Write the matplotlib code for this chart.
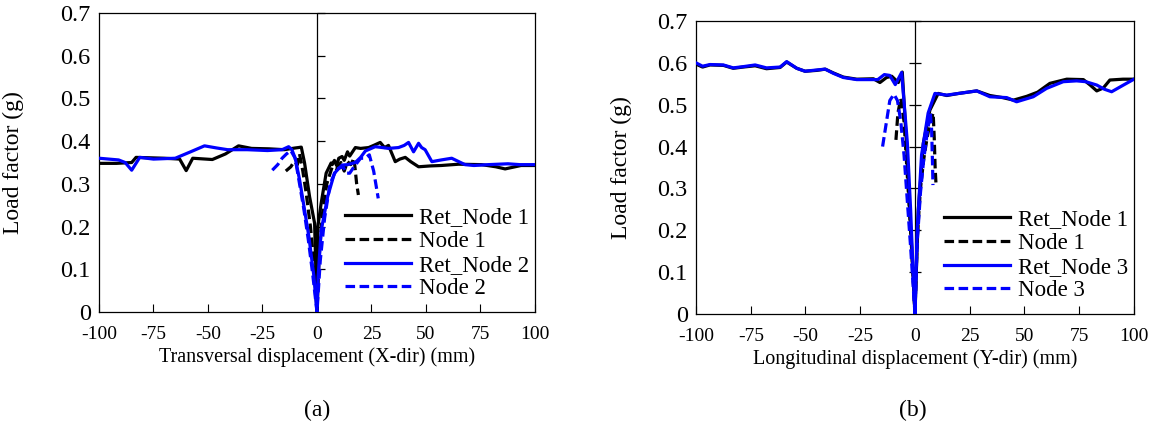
import matplotlib

matplotlib.use("Agg")

import matplotlib.pyplot as plt
from matplotlib.markers import TICKRIGHT

plt.rcParams["font.family"] = ["Liberation Serif", "DejaVu Serif"]

# (a) transversal displacement, X-dir
ret1_a_x = [-100, -92, -85, -83, -70, -63, -60, -57, -48, -42, -36, -30, -22, -15, -10, -8.5, -7.2,
            -5.7, -3.4, -1.1, 0, 0.4, 1.9, 4.2, 6.5, 7, 8, 9, 10, 11.5, 12.5, 14, 15, 17.6, 20, 23.7,
            26, 29, 31, 32.8, 35.9, 38, 40.5, 43, 46.6, 52, 57, 65, 75.5, 82, 86.3, 93.6, 100]
ret1_a_y = [0.348, 0.348, 0.35, 0.362, 0.36, 0.358, 0.331, 0.36, 0.357, 0.37, 0.389, 0.383, 0.382,
            0.38, 0.384, 0.385, 0.386, 0.349, 0.27, 0.208, 0, 0.2, 0.254, 0.325, 0.349, 0.345,
            0.355, 0.343, 0.36, 0.364, 0.355, 0.375, 0.365, 0.385, 0.383, 0.385, 0.39, 0.397, 0.385,
            0.39, 0.352, 0.358, 0.362, 0.352, 0.34, 0.342, 0.343, 0.346, 0.345, 0.34, 0.335, 0.343,
            0.343]

node1_a_x = [-14.3, -12, -10.5, -9, -8, -6.5, -5, -3, -1.5, 0, 1, 2.5, 4.5, 7, 9, 11, 12.5, 14,
             15.5, 17, 18.2, 19]
node1_a_y = [0.33, 0.34, 0.352, 0.345, 0.37, 0.33, 0.28, 0.2, 0.12, 0, 0.13, 0.23, 0.3, 0.34,
             0.335, 0.35, 0.33, 0.352, 0.345, 0.36, 0.3, 0.274]

ret2_a_x = [-100, -91, -88, -85, -81.3, -75, -65, -58, -51.6, -46, -41, -32, -22.7, -16, -13,
            -11.5, -10, -8, -6.7, -3.7, -1.4, 0, 0.5, 1.9, 4.9, 8, 11.5, 14, 17.6, 20, 22.2, 26.7,
            30, 32.8, 37.4, 40, 42, 44.3, 46.6, 48, 49.6, 52.7, 57, 61.8, 67.9, 72, 78.5, 87.6, 93,
            100]
ret2_a_y = [0.36, 0.356, 0.35, 0.332, 0.362, 0.358, 0.36, 0.375, 0.389, 0.384, 0.38, 0.38, 0.378,
            0.38, 0.387, 0.38, 0.36, 0.31, 0.27, 0.176, 0.083, 0, 0.08, 0.19, 0.27, 0.325, 0.344,
            0.345, 0.35, 0.362, 0.377, 0.387, 0.385, 0.383, 0.385, 0.39, 0.397, 0.375, 0.395, 0.385,
            0.38, 0.352, 0.356, 0.36, 0.345, 0.343, 0.345, 0.347, 0.345, 0.345]

node2_a_x = [-20.5, -18, -16, -14, -12, -10, -8, -6, -4, -2, 0, 1.5, 3.5, 6, 9, 12, 13.5, 15, 17,
             20, 22, 24, 26, 28.1]
node2_a_y = [0.332, 0.345, 0.36, 0.37, 0.378, 0.36, 0.3, 0.24, 0.17, 0.09, 0, 0.12, 0.22, 0.3,
             0.335, 0.34, 0.325, 0.325, 0.34, 0.36, 0.36, 0.368, 0.33, 0.266]

# (b) longitudinal displacement, Y-dir
ret1_b_x = [-100, -97, -93.6, -87.5, -83, -78.4, -73, -67.8, -61.6, -58.6, -54, -50.2, -44.9, -41,
            -37.3, -32.7, -26.6, -19, -16, -13, -10.6, -7.6, -5.8, -3.9, -2.4, -0.8, 0, 1.5, 3.8,
            6.8, 10.6, 14.5, 20, 28.2, 34.2, 40, 45, 51, 56, 61.6, 69.3, 76.9, 80, 83, 86, 89, 95,
            100]
ret1_b_y = [0.597, 0.59, 0.595, 0.594, 0.587, 0.59, 0.593, 0.586, 0.589, 0.602, 0.587, 0.58,
            0.582, 0.585, 0.576, 0.566, 0.561, 0.562, 0.553, 0.565, 0.568, 0.553, 0.578, 0.408,
            0.248, 0.089, 0, 0.248, 0.408, 0.487, 0.527, 0.522, 0.527, 0.533, 0.522, 0.517, 0.511,
            0.52, 0.53, 0.551, 0.561, 0.56, 0.547, 0.533, 0.54, 0.559, 0.561, 0.561]

node1_b_x = [-8.7, -7.8, -6.5, -5, -3.5, -2, -1, 0, 1, 2.5, 4, 5.5, 7, 8.3, 8.8, 9.2, 9.6]
node1_b_y = [0.416, 0.48, 0.515, 0.46, 0.33, 0.2, 0.1, 0, 0.18, 0.3, 0.37, 0.42, 0.46, 0.48, 0.42,
             0.35, 0.31]

ret3_b_x = [-100, -97, -93.6, -87.5, -83, -78.4, -73, -67.8, -61.6, -58.6, -54, -50.2, -44.9, -41,
            -37.3, -32.7, -26.6, -19, -17, -14, -11.5, -9, -6.1, -3.5, -2, -0.7, 0, 1, 3, 6, 9.1,
            14.5, 20, 28.2, 34.2, 41.9, 46.4, 54, 60.1, 67.7, 73.8, 78, 83, 86.5, 89.8, 95.2, 100]
ret3_b_y = [0.6, 0.592, 0.596, 0.595, 0.588, 0.591, 0.595, 0.588, 0.59, 0.603, 0.587, 0.58, 0.583,
            0.585, 0.575, 0.565, 0.56, 0.56, 0.56, 0.572, 0.57, 0.548, 0.577, 0.41, 0.25, 0.08, 0,
            0.2, 0.38, 0.48, 0.527, 0.523, 0.527, 0.533, 0.519, 0.517, 0.507, 0.519, 0.539, 0.555,
            0.557, 0.555, 0.547, 0.537, 0.531, 0.547, 0.561]

node3_b_x = [-14.8, -13, -11.5, -9.6, -8, -6.5, -5, -3.5, -2, -1, 0, 1, 2.5, 4, 5.5, 7, 7.6, 8, 8.2]
node3_b_y = [0.4, 0.46, 0.51, 0.525, 0.51, 0.46, 0.38, 0.27, 0.16, 0.08, 0, 0.17, 0.29, 0.37, 0.43,
             0.48, 0.44, 0.36, 0.308]

x_ticks = [-100, -75, -50, -25, 0, 25, 50, 75, 100]
y_ticks = [0, 0.1, 0.2, 0.3, 0.4, 0.5, 0.6, 0.7]

BLUE = "#0000ff"
DASH = (0, (3, 1.4))
LW = 2.3


def style_axis(ax, xlabel, center_marker, center_size, ylabelpad):
    ax.set_xlim(-100, 100)
    ax.set_ylim(0, 0.7)
    ax.set_xticks(x_ticks)
    ax.set_xticklabels([str(t) for t in x_ticks], fontsize=14)
    ax.set_yticks(y_ticks)
    ax.set_yticklabels(["0"] + [f"{t:.1f}" for t in y_ticks[1:]], fontsize=17.5)
    ax.tick_params(axis="y", length=0, pad=6)
    ax.tick_params(axis="x", direction="in", length=6, width=0.8, pad=10)
    for sp in ax.spines.values():
        sp.set_linewidth(0.9)
    # y axis crosses at x = 0, ticks drawn on it
    ax.axvline(0, color="black", lw=0.9, zorder=1)
    ax.plot([0] * len(y_ticks[1:]), y_ticks[1:], ls="none", marker=center_marker,
            ms=center_size, mew=0.9, color="black", zorder=1, clip_on=False)
    ax.set_xlabel(xlabel, fontsize=14.5, labelpad=3)
    ax.set_ylabel("Load factor (g)", fontsize=17, labelpad=ylabelpad)


fig = plt.figure(figsize=(11.51, 4.33), dpi=100)
ax_a = fig.add_axes([0.086, 0.2794, 0.3788, 0.6906])
ax_b = fig.add_axes([0.6047, 0.2748, 0.3805, 0.6767])

ax_a.plot(ret1_a_x, ret1_a_y, color="black", lw=LW, label="Ret_Node 1", zorder=3)
ax_a.plot(node1_a_x, node1_a_y, color="black", lw=LW, ls=DASH, label="Node 1", zorder=3)
ax_a.plot(ret2_a_x, ret2_a_y, color=BLUE, lw=LW, label="Ret_Node 2", zorder=4)
ax_a.plot(node2_a_x, node2_a_y, color=BLUE, lw=LW, ls=DASH, label="Node 2", zorder=4)
style_axis(ax_a, "Transversal displacement (X-dir) (mm)", TICKRIGHT, 6, 26)

ax_b.plot(ret1_b_x, ret1_b_y, color="black", lw=LW, label="Ret_Node 1", zorder=3)
ax_b.plot(node1_b_x, node1_b_y, color="black", lw=LW, ls=DASH, label="Node 1", zorder=3)
ax_b.plot(ret3_b_x, ret3_b_y, color=BLUE, lw=LW, label="Ret_Node 3", zorder=4)
ax_b.plot(node3_b_x, node3_b_y, color=BLUE, lw=LW, ls=DASH, label="Node 3", zorder=4)
style_axis(ax_b, "Longitudinal displacement (Y-dir) (mm)", "_", 8, 18)

for ax in (ax_a, ax_b):
    ax.legend(loc="lower right", bbox_to_anchor=(1.015, 0.0), frameon=False, fontsize=16.5,
              handlelength=2.85, handletextpad=0.35, labelspacing=0.12, borderaxespad=0.15)

fig.text(0.2754, 0.052, "(a)", fontsize=17, ha="center", va="center")
fig.text(0.7932, 0.052, "(b)", fontsize=17, ha="center", va="center")

fig.savefig("out.png", dpi=100)
